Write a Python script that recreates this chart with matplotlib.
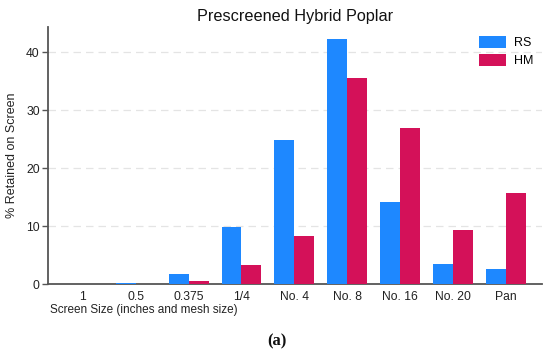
import matplotlib
matplotlib.use("Agg")
import matplotlib.pyplot as plt
import numpy as np

categories = ["1", "0.5", "0.375", "1/4", "No. 4", "No. 8", "No. 16", "No. 20", "Pan"]
rs_values = [0.0, 0.3, 1.85, 9.85, 24.85, 42.4, 14.2, 3.55, 2.7]
hm_values = [0.0, 0.05, 0.5, 3.4, 8.4, 35.6, 26.9, 9.4, 15.8]
y_ticks = [0, 10, 20, 30, 40]

plt.rcParams['font.family'] = ['Liberation Sans', 'DejaVu Sans']

fig = plt.figure(figsize=(5.5, 3.58), dpi=100)
ax = fig.add_axes([0.0873, 0.2059, 0.8977, 0.7187])

x = np.arange(len(categories))
w = 0.378
blue = "#1E88FF"
red = "#D41159"
ax.bar(x - w/2, rs_values, width=w, color=blue, label="RS", zorder=3)
ax.bar(x + w/2, hm_values, width=w, color=red, label="HM", zorder=3)

ax.set_xlim(-0.66, 8.68)
ax.set_ylim(0, 44.4)
ax.set_yticks(y_ticks)
ax.set_xticks(x)
ax.set_xticklabels(categories, fontsize=8.7, color="#222222")
ax.tick_params(axis='x', length=0, pad=5)
ax.tick_params(axis='y', length=4, width=1, color="#555555", labelsize=8.7, labelcolor="#222222", pad=2)
ax.yaxis.grid(True, linestyle=(0, (6, 4)), color="#E4E4E4", linewidth=0.9, zorder=0)
for s in ["top", "right"]:
    ax.spines[s].set_visible(False)
ax.spines["left"].set_color("#555555")
ax.spines["bottom"].set_color("#555555")
ax.spines["left"].set_linewidth(1.3)
ax.spines["bottom"].set_linewidth(1.3)

ax.set_title("Prescreened Hybrid Poplar", fontsize=11.7, pad=4, color="#111111")
ax.set_ylabel("% Retained on Screen", fontsize=9, color="#222222", labelpad=6)
fig.text(50/550, 1 - 310/358, "Screen Size (inches and mesh size)", fontsize=8.5,
         color="#222222", ha="left", va="center")

ax.legend(loc="upper right", frameon=False, fontsize=9, handlelength=2.2, handleheight=1.1,
          bbox_to_anchor=(1.0, 1.0), borderaxespad=0.3, labelspacing=0.4, handletextpad=0.6)

fig.text(277/550, 1 - 341/358, "(a)", fontsize=12, family=['Liberation Serif'],
         fontweight='bold', ha="center", va="center", color="#111111")

fig.savefig("out.png", dpi=100)
